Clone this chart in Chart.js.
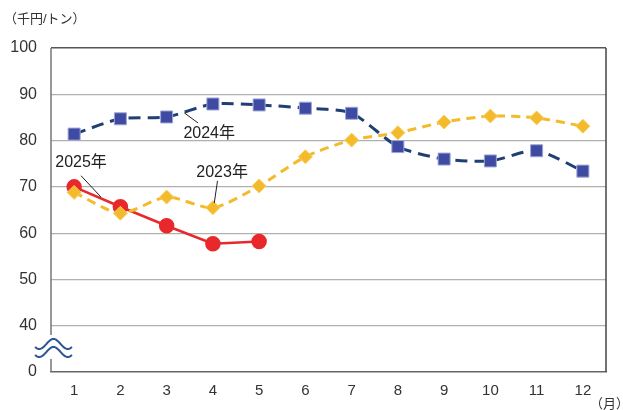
<!DOCTYPE html>
<html><head><meta charset="utf-8">
<script src="https://cdn.jsdelivr.net/npm/chart.js@4"></script>
<style>html,body{margin:0;padding:0;background:#fff}#wrap{width:623px;height:410px;position:relative}</style>
</head><body><div id="wrap"><canvas id="c" width="623" height="410"></canvas></div>
<script>
const months = ['1','2','3','4','5','6','7','8','9','10','11','12'];
const s2023 = [68.8,64.3,67.8,65.5,70.2,76.5,80.1,81.7,84.0,85.3,84.9,83.1];
const s2024 = [81.4,84.7,85.1,87.9,87.7,87.0,85.9,78.7,76.0,75.6,77.8,73.4];
const s2025 = [70.0,65.7,61.6,57.7,58.2,null,null,null,null,null,null,null];
const yTicks = [30,40,50,60,70,80,90,100];
const yTickLabels = {30:'0',40:'40',50:'50',60:'60',70:'70',80:'80',90:'90',100:'100'};
const notes = [
  {text:'2024年', tx:2.92, ty:81.6, x1:2.38, y1:86.0, x2:2.68, y2:83.8},
  {text:'2025年', tx:0.15, ty:75.2, x1:0.15, y1:72.4, x2:0.58, y2:67.8},
  {text:'2023年', tx:3.2,  ty:73.0, x1:3.1,  y1:71.3, x2:3.03, y2:66.5}
];
const FONT = '"Liberation Sans","Noto Sans CJK JP",Arial,sans-serif';

const deco = {
  id:'deco',
  afterDraw(chart){
    const {ctx, chartArea:a, scales:{x,y}} = chart;
    ctx.save();
    ctx.strokeStyle='#444'; ctx.lineWidth=1.5;
    ctx.beginPath(); ctx.moveTo(a.right,a.top); ctx.lineTo(a.right,a.bottom); ctx.stroke();
    ctx.strokeStyle='#777'; ctx.lineWidth=1.5;
    const gTop = a.bottom-37, gBot = a.bottom-13;
    ctx.beginPath(); ctx.moveTo(a.left,a.top); ctx.lineTo(a.left,gTop);
    ctx.moveTo(a.left,gBot); ctx.lineTo(a.left,a.bottom); ctx.stroke();
    ctx.strokeStyle='#2f5596'; ctx.lineWidth=2;
    for (const off of [0,8]){
      ctx.beginPath();
      const x0=a.left-16, w=37, base=a.bottom-28+off;
      for(let i=0;i<=40;i++){
        const t=i/40; const px=x0+t*w;
        const py=base - 5*Math.sin(t*Math.PI*2.6 - 0.8*Math.PI);
        if(i===0) ctx.moveTo(px,py); else ctx.lineTo(px,py);
      }
      ctx.stroke();
    }
    ctx.font='16px '+FONT; ctx.fillStyle='#222'; ctx.textAlign='center'; ctx.textBaseline='middle';
    const px = v => x.getPixelForValue(0) + v*(x.getPixelForValue(1)-x.getPixelForValue(0));
    ctx.strokeStyle='#222'; ctx.lineWidth=1;
    for(const n of notes){
      ctx.fillText(n.text, px(n.tx), y.getPixelForValue(n.ty));
      ctx.beginPath(); ctx.moveTo(px(n.x1), y.getPixelForValue(n.y1)); ctx.lineTo(px(n.x2), y.getPixelForValue(n.y2)); ctx.stroke();
    }
    ctx.font='13px '+FONT; ctx.fillStyle='#333'; ctx.textAlign='left';
    ctx.fillText('（千円/トン）', 4, 19);
    ctx.fillText('（月）', a.right-16, 404);
    ctx.restore();
  }
};

new Chart(document.getElementById('c'), {
  type:'line',
  data:{labels:months, datasets:[
    {label:'2023年', data:s2023, borderColor:'#f3bb2c', backgroundColor:'#f3bb2c', borderWidth:3, borderDash:[9,6],
     pointStyle:'rectRot', pointRadius:7, pointBorderColor:'#f7cf5e', pointBorderWidth:1, tension:0.25},
    {label:'2024年', data:s2024, borderColor:'#203f73', backgroundColor:'#3f4aa3', borderWidth:3, borderDash:[12,7],
     pointStyle:'rect', pointRadius:8.5, pointBorderColor:'#9ea6d6', pointBorderWidth:1, tension:0.25},
    {label:'2025年', data:s2025, borderColor:'#e8282a', backgroundColor:'#e8282a', borderWidth:2.5,
     pointStyle:'circle', pointRadius:6.5, pointBorderColor:'#e8282a', tension:0, spanGaps:false}
  ]},
  options:{
    responsive:false, animation:false, devicePixelRatio:1,
    layout:{padding:{left:0,top:48,right:17,bottom:0}},
    plugins:{legend:{display:false}, tooltip:{enabled:false}},
    scales:{
      x:{offset:true, grid:{display:false, drawTicks:false}, border:{display:true, color:'#666', width:1.5},
         ticks:{color:'#333', font:{family:FONT,size:15}, padding:10, maxRotation:0, minRotation:0, autoSkip:false},
         afterFit(s){s.height=38;}},
      y:{min:30, max:100, afterBuildTicks(s){s.ticks=yTicks.map(v=>({value:v}));},
         grid:{drawTicks:false, color:c=>c.tick && c.tick.value===100?'#555':(c.tick && c.tick.value===30?'rgba(0,0,0,0)':'#b0b0b0'), lineWidth:c=>c.tick && c.tick.value===100?1.5:1.2},
         border:{display:false},
         ticks:{color:'#333', font:{family:FONT,size:16}, padding:14, autoSkip:false, callback:v=>yTickLabels[v]},
         afterFit(s){s.width=51;}}
    }
  },
  plugins:[deco]
});
</script></body></html>
